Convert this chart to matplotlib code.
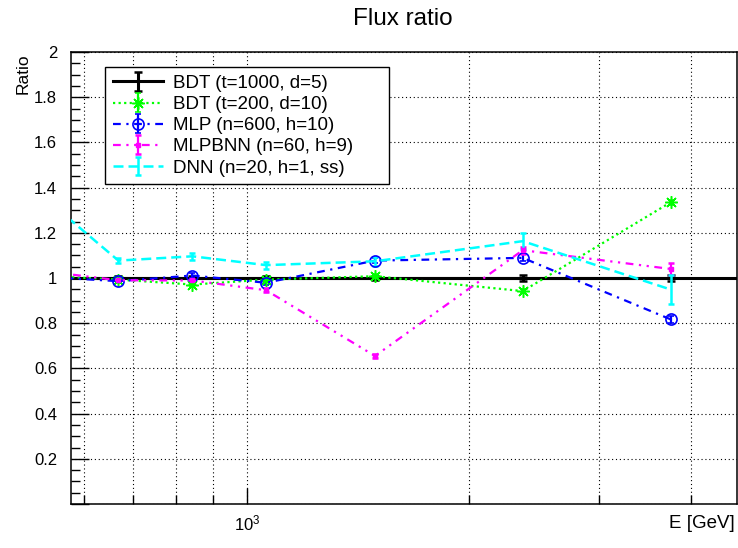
import matplotlib
matplotlib.use('Agg')
import matplotlib.pyplot as plt
from matplotlib import ticker

plt.rcParams['font.family'] = ['Liberation Sans', 'DejaVu Sans']

# ----------------- data -----------------
energy = [531, 669, 843, 1061, 1491, 2365, 3754]  # GeV

bdt1000 = [1.0, 1.0, 1.0, 1.0, 1.0, 1.0, 1.0]
bdt1000_err = [0.008, 0.008, 0.008, 0.008, 0.010, 0.014, 0.014]

bdt200 = [1.01, 0.993, 0.971, 0.993, 1.008, 0.942, 1.335]
bdt200_err = [0.008, 0.008, 0.008, 0.008, 0.008, 0.010, 0.012]

mlp = [1.005, 0.986, 1.011, 0.979, 1.077, 1.089, 0.817]
mlp_err = [0.010, 0.010, 0.010, 0.010, 0.012, 0.015, 0.015]

mlpbnn = [1.03, 0.990, 0.989, 0.946, 0.655, 1.123, 1.040]
mlpbnn_err = [0.008, 0.008, 0.008, 0.008, 0.010, 0.015, 0.025]

dnn = [1.355, 1.077, 1.096, 1.057, 1.074, 1.163, 0.949]
dnn_err = [0.012, 0.012, 0.015, 0.015, 0.020, 0.036, 0.066]

labels = ['BDT (t=1000, d=5)', 'BDT (t=200, d=10)', 'MLP (n=600, h=10)',
          'MLPBNN (n=60, h=9)', 'DNN (n=20, h=1, ss)']

# ----------------- figure -----------------
fig = plt.figure(figsize=(7.38, 5.48), dpi=100)
ax = fig.add_axes([71 / 738, 44 / 548, 666 / 738, 452 / 548])

# reference line across the whole frame
ax.axhline(1.0, color='black', lw=2.2, zorder=3)

ax.errorbar(energy, bdt1000, yerr=bdt1000_err, color='black', lw=2.2,
            capsize=3, capthick=1.8, marker='s', ms=1.5, label=labels[0], zorder=4)
ax.errorbar(energy, bdt200, yerr=bdt200_err, color='#00ff00', lw=1.6,
            ls=(0, (1, 1.5)), capsize=2.5, capthick=1.3, marker=(8, 2, 0), ms=9,
            mew=1.1, label=labels[1], zorder=5)
ax.errorbar(energy, mlp, yerr=mlp_err, color='#0000ff', lw=1.6,
            ls=(0, (3.5, 2.5, 1, 2.5)), capsize=2.5, capthick=1.3, marker='o', ms=8,
            mfc='none', mew=1.2, label=labels[2], zorder=5)
ax.errorbar(energy, mlpbnn, yerr=mlpbnn_err, color='#ff00ff', lw=1.6,
            ls=(0, (3.5, 2.5, 1, 2.5, 1, 2.5)), capsize=2.5, capthick=1.8, marker='s', ms=2.5,
            label=labels[3], zorder=5)
ax.errorbar(energy, dnn, yerr=dnn_err, color='#00ffff', lw=1.8,
            ls=(0, (4, 2)), capsize=2.5, capthick=1.8, label=labels[4], zorder=5)

# ----------------- axes -----------------
ax.set_xscale('log')
ax.set_xlim(577, 4618)
ax.set_ylim(0, 2)

ax.xaxis.set_major_locator(ticker.LogLocator(base=10))
ax.xaxis.set_minor_locator(ticker.LogLocator(base=10, subs=[2, 3, 4, 5, 6, 7, 8, 9]))
ax.xaxis.set_minor_formatter(ticker.NullFormatter())
ax.yaxis.set_major_locator(ticker.MultipleLocator(0.2))
ax.yaxis.set_minor_locator(ticker.MultipleLocator(0.05))
ax.yaxis.set_major_formatter(ticker.FuncFormatter(lambda v, p: '' if abs(v) < 1e-9 else f'{v:g}'))

ax.tick_params(axis='x', which='major', direction='in', length=11.5, width=1, pad=7, labelsize=12)
ax.tick_params(axis='x', which='minor', direction='in', length=6.5, width=1)
ax.tick_params(axis='y', which='major', direction='in', length=13, width=1, pad=10, labelsize=12)
ax.tick_params(axis='y', which='minor', direction='in', length=6.5, width=1)

for s in ax.spines.values():
    s.set_linewidth(1.1)

ax.grid(True, which='both', axis='x', color='black', lw=0.8, ls=(0, (1, 2.5)))
ax.grid(True, which='major', axis='y', color='black', lw=0.8, ls=(0, (1, 2.5)))
ax.set_axisbelow(True)

# ----------------- legend -----------------
leg = ax.legend(loc='upper left', bbox_to_anchor=(0.051, 0.706, 0.426, 0.261),
                mode='expand', borderaxespad=0,
                fontsize=13.5, frameon=True, fancybox=False, edgecolor='black',
                framealpha=1, handlelength=2.7, handletextpad=0.5,
                labelspacing=0.215, borderpad=0.42)
leg.get_frame().set_linewidth(1.0)

# ----------------- texts -----------------
fig.text(403 / 738, 1 - 19 / 548, 'Flux ratio', ha='center', va='center', fontsize=17.5)
fig.text(23.5 / 738, 1 - 53 / 548, 'Ratio', ha='center', va='top', rotation=90, fontsize=12.5)
fig.text(735 / 738, 1 - 524 / 548, 'E [GeV]', ha='right', va='center', fontsize=13.5)

fig.savefig('out.png', dpi=100)
